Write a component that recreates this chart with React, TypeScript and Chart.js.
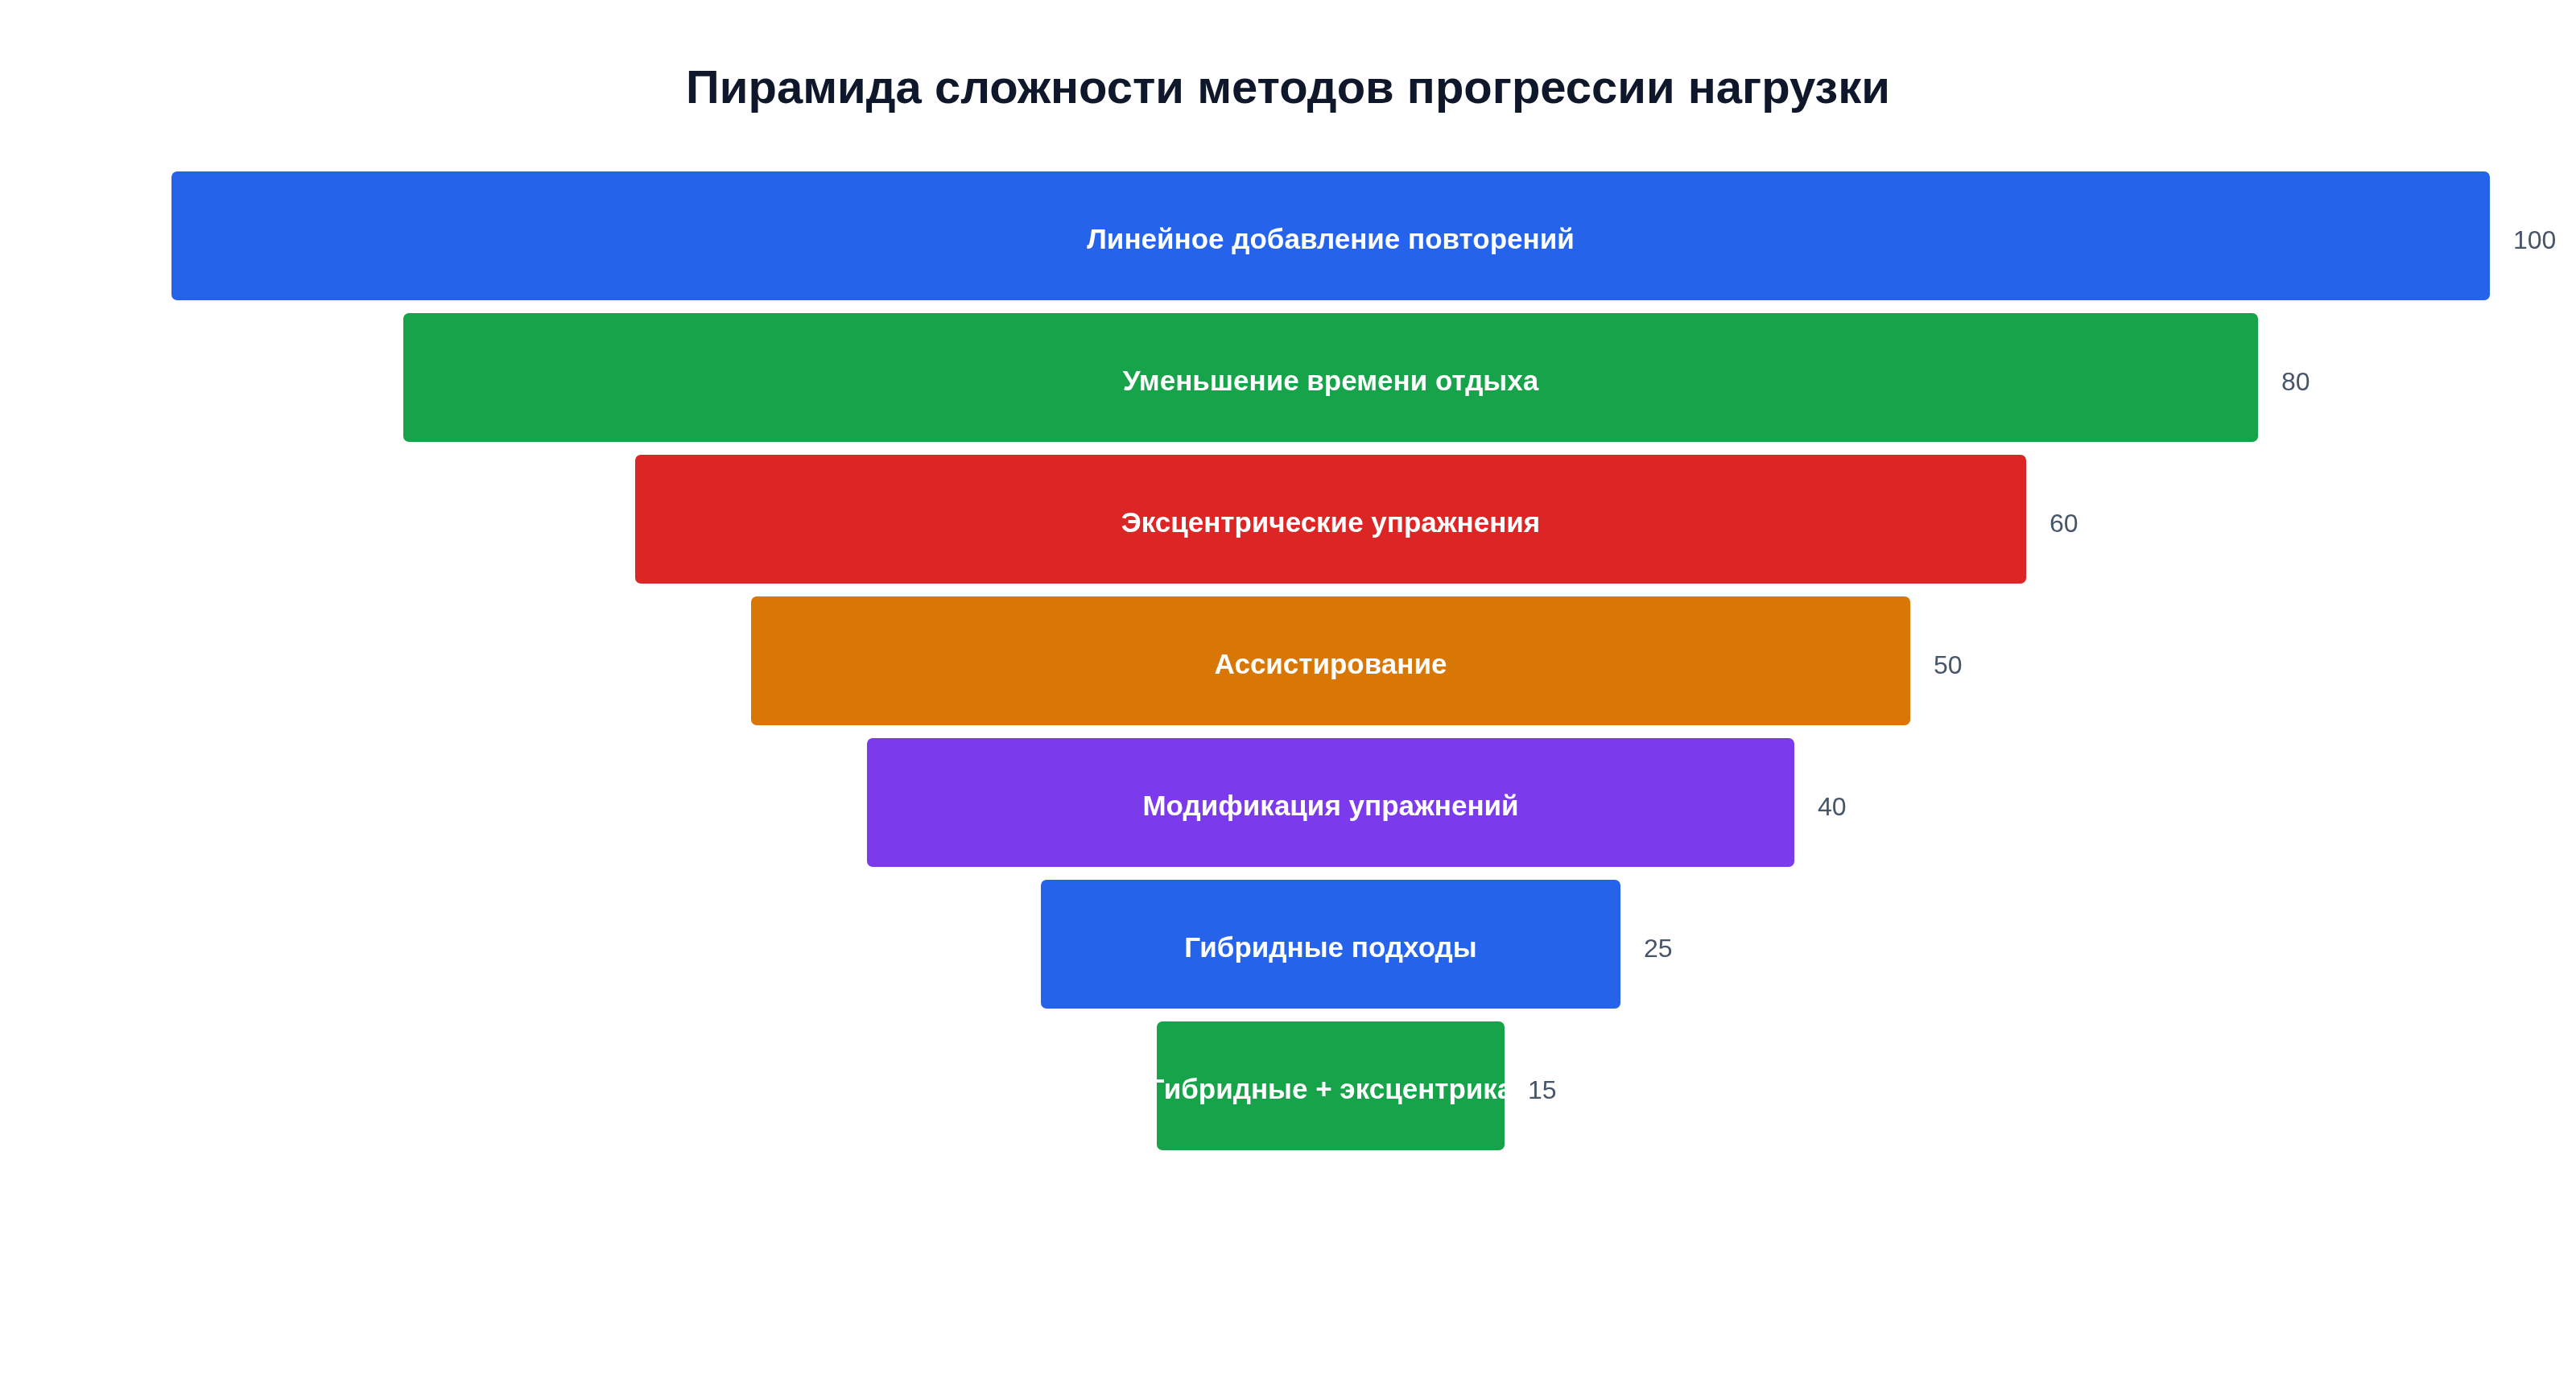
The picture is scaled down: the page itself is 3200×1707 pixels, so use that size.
import React, { useEffect, useRef } from "react";
import { Chart, registerables } from "chart.js";

Chart.register(...registerables);

const TITLE = "Пирамида сложности методов прогрессии нагрузки";
const categories = [
  "Линейное добавление повторений",
  "Уменьшение времени отдыха",
  "Эксцентрические упражнения",
  "Ассистирование",
  "Модификация упражнений",
  "Гибридные подходы",
  "Гибридные + эксцентрика",
];
const values = [100, 80, 60, 50, 40, 25, 15];
const colors = ["#2563eb", "#16a34a", "#dc2626", "#d97706", "#7c3aed", "#2563eb", "#16a34a"];

const FONT = "'Liberation Sans', Arial, Helvetica, sans-serif";

const funnelLabels = {
  id: "funnelLabels",
  afterDatasetsDraw(chart: any) {
    const ctx = chart.ctx;
    const meta = chart.getDatasetMeta(0);
    meta.data.forEach((bar: any, i: number) => {
      const { x, y, base, height } = bar.getProps(["x", "y", "base", "height"], true);
      const left = Math.min(x, base);
      const right = Math.max(x, base);
      const cx = (left + right) / 2;
      ctx.save();
      ctx.beginPath();
      ctx.rect(left, y - height / 2, right - left, height);
      ctx.clip();
      ctx.fillStyle = "#ffffff";
      ctx.font = `bold 35px ${FONT}`;
      ctx.textAlign = "center";
      ctx.textBaseline = "middle";
      ctx.fillText(categories[i], cx, y + 6);
      ctx.restore();
      ctx.save();
      ctx.fillStyle = "#475569";
      ctx.font = `32px ${FONT}`;
      ctx.textAlign = "left";
      ctx.textBaseline = "middle";
      ctx.fillText(String(values[i]), right + 29, y + 7);
      ctx.restore();
    });
  },
};

const titlePlugin = {
  id: "centerTitle",
  afterDraw(chart: any) {
    const ctx = chart.ctx;
    ctx.save();
    ctx.fillStyle = "#0f172a";
    ctx.font = `bold 58px ${FONT}`;
    ctx.textAlign = "center";
    ctx.textBaseline = "alphabetic";
    ctx.fillText(TITLE, chart.width / 2, 120);
    ctx.restore();
  },
};

export default function App() {
  const ref = useRef<HTMLCanvasElement>(null);
  useEffect(() => {
    if (!ref.current) return;
    const chart = new Chart(ref.current, {
      type: "bar",
      data: {
        labels: categories,
        datasets: [
          {
            data: values.map((v) => [-v / 2, v / 2]) as any,
            backgroundColor: colors,
            borderWidth: 0,
            borderRadius: 7,
            borderSkipped: false,
            barPercentage: 0.91,
            categoryPercentage: 1,
          },
        ],
      },
      options: {
        indexAxis: "y",
        animation: false,
        responsive: true,
        maintainAspectRatio: false,
        layout: { padding: { left: 205, right: 99, top: 197, bottom: 262 } },
        plugins: {
          legend: { display: false },
          title: { display: false },
          tooltip: { enabled: false },
        },
        scales: {
          x: { min: -50, max: 50, display: false },
          y: { display: false },
        },
      },
      plugins: [funnelLabels, titlePlugin],
    });
    return () => chart.destroy();
  }, []);
  return (
    <div style={{ width: "100%", height: 1691, position: "relative" }}>
      <canvas ref={ref} />
    </div>
  );
}
